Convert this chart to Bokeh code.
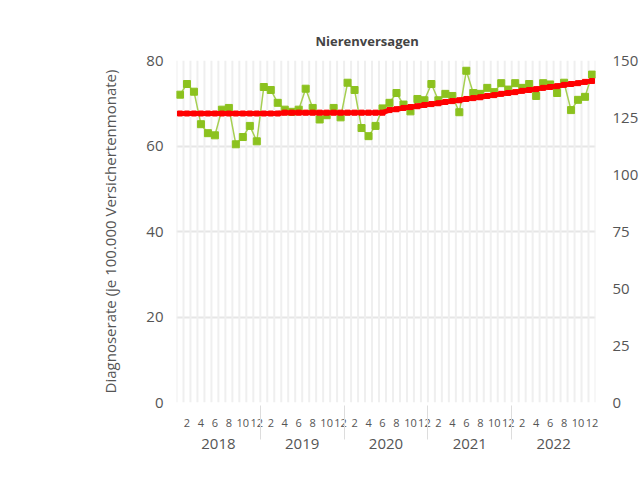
from bokeh.plotting import figure
from bokeh.models import (FactorRange, Range1d, LinearAxis, FixedTicker, ColumnDataSource)
from bokeh.embed import file_html
from bokeh.resources import INLINE

# ---- data ----
years = ["2018", "2019", "2020", "2021", "2022"]
months = list(range(1, 13))
title_text = "Nierenversagen"
y_label = "Diagnoserate (je 100.000 Versichertenmonate)"
left_ticks = [0, 20, 40, 60, 80]
right_ticks = [0, 25, 50, 75, 100, 125, 150]

rate = [
    72.0, 74.5, 72.7, 65.1, 63.0, 62.5, 68.5, 68.9, 60.4, 62.1, 64.7, 61.1,
    73.8, 73.1, 70.1, 68.5, 68.0, 68.5, 73.4, 68.9, 66.2, 67.2, 68.9, 66.7,
    74.8, 73.1, 64.2, 62.3, 64.7, 68.8, 70.1, 72.4, 69.7, 68.1, 71.0, 70.7,
    74.5, 70.7, 72.2, 71.7, 67.9, 77.6, 72.4, 72.2, 73.6, 72.6, 74.7, 73.2,
    74.7, 73.6, 74.5, 71.7, 74.7, 74.4, 72.4, 74.8, 68.4, 70.8, 71.5, 76.7,
]
trend = [
    67.6, 67.6, 67.6, 67.6, 67.6, 67.6, 67.6, 67.6, 67.6, 67.6, 67.6, 67.6,
    67.6, 67.6, 67.6, 67.8, 67.8, 67.8, 67.8, 67.8, 67.8, 67.8, 67.8, 67.8,
    67.8, 67.8, 67.8, 67.8, 67.8, 67.8, 68.4, 68.6, 68.9, 69.1, 69.3, 69.6,
    69.8, 70.0, 70.3, 70.5, 70.7, 71.0, 71.2, 71.4, 71.7, 71.9, 72.2, 72.4,
    72.6, 72.9, 73.1, 73.3, 73.6, 73.8, 74.0, 74.3, 74.5, 74.7, 75.0, 75.2,
]

# only even months carry a visible label
month_labels = [str(m) if m % 2 == 0 else " " * m for m in months]
factors = [(y, ml) for y in years for ml in month_labels]

FONT = "Open Sans"
TXT = "#555555"

x_range = FactorRange(*factors, group_padding=0, subgroup_padding=0, range_padding=0)

p = figure(x_range=x_range, y_range=Range1d(0, 80),
           frame_width=419, frame_height=342,
           min_border_left=176, min_border_top=60, min_border_right=2, min_border_bottom=5,
           output_backend="svg", toolbar_location=None,
           background_fill_color="white", border_fill_color="white",
           outline_line_color=None)

p.title.text = title_text
p.title.align = "left"
p.title.text_font = FONT
p.title.text_font_size = "13px"
p.title.text_font_style = "bold"
p.title.text_color = "#444444"
p.title.offset = 139
p.title.standoff = 22

# grids
p.xgrid.visible = False
p.ygrid.grid_line_color = "#e6e6e6"
p.ygrid.grid_line_width = 2
p.yaxis.ticker = FixedTicker(ticks=left_ticks)

# vertical grid lines at month boundaries
bx = [(y, ml, -0.5) for (y, ml) in factors] + [(factors[-1][0], factors[-1][1], 0.5)]
grid_src = ColumnDataSource(dict(x=bx, y0=[0] * len(bx), y1=[80] * len(bx)))
p.segment(x0="x", x1="x", y0="y0", y1="y1", source=grid_src,
          line_color="#efefef", line_width=2)

src = ColumnDataSource(dict(x=factors, rate=rate, trend=trend))
p.line(x="x", y="rate", source=src, line_color="#a6cf52", line_width=1.5)
p.scatter(x="x", y="rate", source=src, marker="square", size=7,
          fill_color="#8cc21f", line_color="#8cc21f")
p.line(x="x", y="trend", source=src, line_color="#ff0000", line_width=5)
p.scatter(x="x", y="trend", source=src, marker="square", size=5,
          fill_color="#ff0000", line_color="#ff0000")

# left axis
ya = p.yaxis[0]
ya.axis_label = y_label
ya.axis_label_text_font = FONT
ya.axis_label_text_font_size = "15px"
ya.axis_label_text_font_style = "normal"
ya.axis_label_text_color = TXT
ya.axis_label_standoff = 23
ya.major_label_text_font = FONT
ya.major_label_text_font_size = "15px"
ya.major_label_text_color = TXT
ya.major_label_standoff = 7
ya.axis_line_color = None
ya.major_tick_line_color = None
ya.minor_tick_line_color = None

# right axis
p.extra_y_ranges = {"right": Range1d(0, 150)}
ra = LinearAxis(y_range_name="right", ticker=FixedTicker(ticks=right_ticks))
ra.major_label_text_font = FONT
ra.major_label_text_font_size = "15px"
ra.major_label_text_color = TXT
ra.major_label_standoff = 11
ra.axis_line_color = None
ra.major_tick_line_color = None
ra.minor_tick_line_color = None
p.add_layout(ra, "right")

# x axis
xa = p.xaxis[0]
xa.axis_line_color = None
xa.major_tick_line_color = None
xa.minor_tick_line_color = None
xa.major_label_text_font = FONT
xa.major_label_text_font_size = "11px"
xa.major_label_text_color = TXT
xa.major_label_standoff = 6
xa.major_label_orientation = "horizontal"
xa.group_text_font = FONT
xa.group_text_font_size = "15px"
xa.group_text_font_style = "normal"
xa.group_text_color = TXT
xa.separator_line_color = "#dddddd"
xa.separator_line_width = 1

open("out.html", "w").write(file_html(p, INLINE))
